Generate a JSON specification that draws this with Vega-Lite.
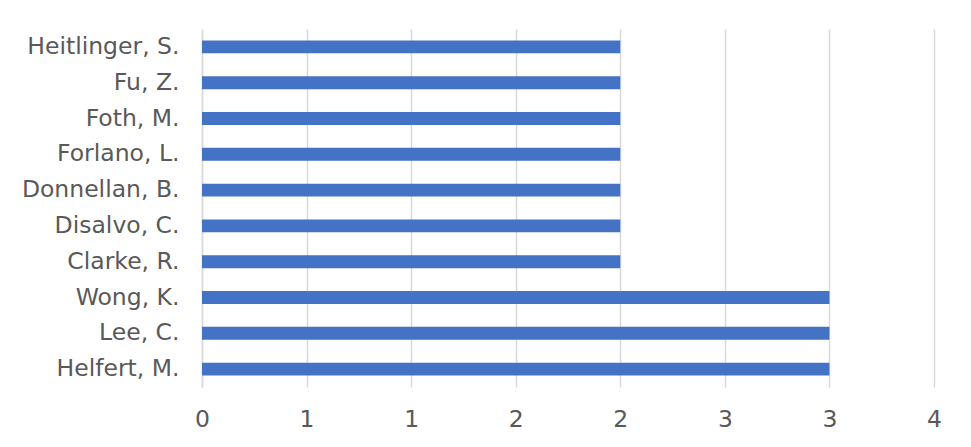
{
  "$schema": "https://vega.github.io/schema/vega-lite/v6.json",
  "autosize": {"type": "none"},
  "width": 732,
  "height": 358,
  "padding": {"left": 202, "top": 29, "right": 37, "bottom": 60},
  "background": "white",
  "config": {"view": {"stroke": null}, "font": "DejaVu Sans"},
  "data": {
    "values": [
      {"author": "Heitlinger, S.", "count": 2},
      {"author": "Fu, Z.", "count": 2},
      {"author": "Foth, M.", "count": 2},
      {"author": "Forlano, L.", "count": 2},
      {"author": "Donnellan, B.", "count": 2},
      {"author": "Disalvo, C.", "count": 2},
      {"author": "Clarke, R.", "count": 2},
      {"author": "Wong, K.", "count": 3},
      {"author": "Lee, C.", "count": 3},
      {"author": "Helfert, M.", "count": 3}
    ]
  },
  "mark": {"type": "bar", "color": "#4472C4"},
  "encoding": {
    "y": {
      "field": "author",
      "type": "nominal",
      "sort": null,
      "scale": {"paddingInner": 0.64, "paddingOuter": 0.32},
      "axis": {
        "title": null,
        "ticks": false,
        "domain": true,
        "domainColor": "#d9d9d9",
        "domainWidth": 1.5,
        "labelFontSize": 23.5,
        "labelColor": "#595959",
        "labelPadding": 23,
        "grid": false
      }
    },
    "x": {
      "field": "count",
      "type": "quantitative",
      "scale": {"domain": [0, 3.5], "nice": false},
      "axis": {
        "title": null,
        "values": [0, 0.5, 1, 1.5, 2, 2.5, 3, 3.5],
        "labelExpr": "'' + round(datum.value)",
        "ticks": false,
        "domain": false,
        "grid": true,
        "gridColor": "#d9d9d9",
        "gridWidth": 1.5,
        "labelFontSize": 23.5,
        "labelColor": "#595959",
        "labelPadding": 20,
        "labelFlush": false
      }
    }
  }
}
